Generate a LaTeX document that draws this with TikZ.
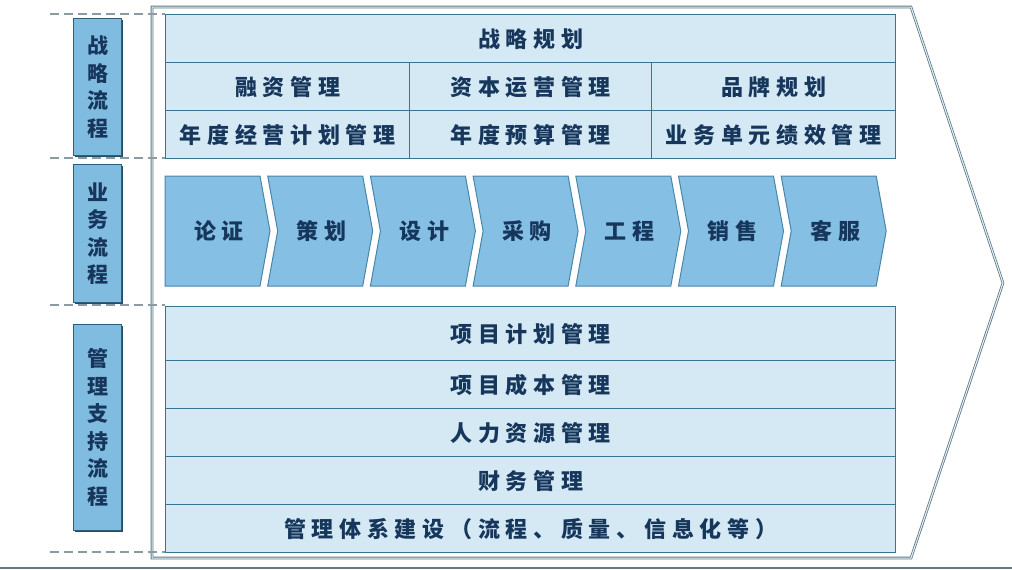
\documentclass[tikz,border=0pt]{standalone}
\usepackage{fontspec}
\newfontfamily\cjk[LetterSpace=26]{Noto Sans CJK SC}
\newfontfamily\cjkv{Noto Sans CJK SC}
\definecolor{cellfill}{HTML}{D5E9F5}
\definecolor{cellline}{HTML}{3A7590}
\definecolor{chevfill}{HTML}{85BFE3}
\definecolor{chevline}{HTML}{4A86AA}
\definecolor{labfill}{HTML}{80BBE0}
\definecolor{labline}{HTML}{2F5F7F}
\definecolor{txt}{HTML}{16365C}
\definecolor{dashc}{HTML}{8A9BA3}
\definecolor{framec}{HTML}{5F7A85}
\tikzset{
  cell/.style={draw=cellline, fill=cellfill, line width=1.4pt, anchor=north west,
    inner sep=0pt, text=txt, font=\cjk\bfseries\fontsize{22}{24}\selectfont},
  chev/.style={draw=chevline, fill=chevfill, line width=1pt},
  chevtext/.style={text=txt, font=\cjk\bfseries\fontsize{22}{24}\selectfont, inner sep=0pt},
  labbox/.style={draw=labline, fill=labfill, line width=1pt, anchor=north west,
    minimum width=48pt, inner sep=0pt, text=txt, align=center,
    font=\cjkv\bfseries\fontsize{21}{27.5}\selectfont},
  sepline/.style={draw=dashc, line width=1.6pt, dash pattern=on 9pt off 5pt},
}
\begin{document}
\begin{tikzpicture}[x=1pt,y=-1pt]
\useasboundingbox (0,0) rectangle (1012,570);
\fill[white] (0,0) rectangle (1012,570);
% outer frame
\draw[draw=framec, line width=0.8pt, double=cellfill!60!white, double distance=1pt, line join=miter]
  (152,7) -- (911,7) -- (1003,283) -- (911,558) -- (152,558) -- cycle;
% bottom bar
\draw[draw=framec!80!gray, line width=2pt] (0,568) coordinate (b1) -- (1012,568) coordinate (b2);
% dashed separators
\foreach \y/\n in {14/a,158/b,305/c,552/d}{
  \draw[sepline] (50,\y) coordinate (d\n1) -- (165,\y) coordinate (d\n2);
}
% left labels
\foreach \y/\h/\n/\t in {18/137/l1/{战\\略\\流\\程}, 164/138/l2/{业\\务\\流\\程}, 324/206/l3/{管\\理\\支\\持\\流\\程}}{
  \fill[labline!80!black] (75,\y+2) rectangle (123,\y+\h+2);
  \node[labbox, minimum height=\h pt] (\n) at (73,\y) {\t};
}
% strategy table
\node[cell, minimum width=730pt, minimum height=48pt] (s0) at (165,14) {战略规划};
\node[cell, minimum width=244pt, minimum height=48pt] (s11) at (165,62) {融资管理};
\node[cell, minimum width=242pt, minimum height=48pt] (s12) at (409,62) {资本运营管理};
\node[cell, minimum width=244pt, minimum height=48pt] (s13) at (651,62) {品牌规划};
\node[cell, minimum width=244pt, minimum height=48pt] (s21) at (165,110) {年度经营计划管理};
\node[cell, minimum width=242pt, minimum height=48pt] (s22) at (409,110) {年度预算管理};
\node[cell, minimum width=244pt, minimum height=48pt] (s23) at (651,110) {业务单元绩效管理};
% chevrons
\foreach \i/\t in {0/论证,1/策划,2/设计,3/采购,4/工程,5/销售,6/客服}{
  \pgfmathsetmacro{\xo}{165+102.7*\i}
  \ifnum\i=0
    \draw[chev] (\xo,176) -- (\xo+95,176) -- (\xo+105,231) -- (\xo+95,286) -- (\xo,286) -- cycle;
  \else
    \draw[chev] (\xo,176) -- (\xo+95,176) -- (\xo+105,231) -- (\xo+95,286) -- (\xo,286) -- (\xo+10,231) -- cycle;
  \fi
  \node[chevtext] (c\i) at (\xo+54,231) {\t};
}
% support rows
\node[cell, minimum width=730pt, minimum height=54pt] (m1) at (165,306) {项目计划管理};
\node[cell, minimum width=730pt, minimum height=48pt] (m2) at (165,360) {项目成本管理};
\node[cell, minimum width=730pt, minimum height=48pt] (m3) at (165,408) {人力资源管理};
\node[cell, minimum width=730pt, minimum height=48pt] (m4) at (165,456) {财务管理};
\node[cell, minimum width=730pt, minimum height=48pt] (m5) at (165,504) {管理体系建设（流程、质量、信息化等）};
\end{tikzpicture}
\end{document}
